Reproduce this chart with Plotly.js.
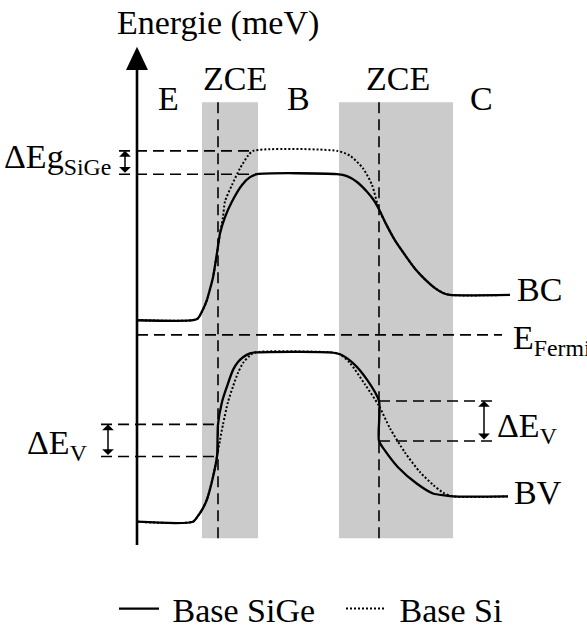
<!DOCTYPE html>
<html><head><meta charset="utf-8">
<script src="https://cdn.plot.ly/plotly-3.0.1.min.js"></script>
<style>html,body{margin:0;padding:0;background:#fff}#chart{width:587px;height:638px}</style>
</head><body><div id="chart"></div>
<script>
// Position (arbitrary units, 0 = energy axis) and energy (arbitrary meV units)
const cbX_SiGe = [0,56,61,65,70,73,76,78,80,83,88,95,105,113,120,200,210,220,230,237,242,249,258,268,278,288,298,306,313,373];
const cbE_SiGe = [231,231,233,240,252,263,275,287,300,320,337,353,370,378,381,381,379,373,363,354,345,330,313,298,284,273,264,259,257,257];
const cbX_Si   = [0,56,61,65,70,73,76,78,80,83,86,88,95,103,111,116,200,213,226,235,242,249,258,268,278,288,298,306,313,373];
const cbE_Si   = [231,231,233,240,252,263,275,287,300,320,337,353,370,387,400,405,405,400,387,370,345,330,313,298,284,273,264,259,257,257];
const vbX_SiGe = [0,56,61,66,70,76,80,81,85,90,96,101,106,113,120,193,203,216,230,242,242,248,261,280,296,308,316,371];
const vbE_SiGe = [24,24,30,38,47,70,91,124,147,163,180,188,193,197,198,198,196,187,170,148,107,97,80,63,53,51,50,50];
const vbX_Si   = [0,56,61,66,70,76,80,83,86,91,96,101,106,113,118,193,203,213,228,242,253,268,283,296,306,316,371];
const vbE_Si   = [24,24,30,38,47,70,91,108,124,147,163,177,187,195,198,198,196,187,165,143,120,95,75,62,54,50,50];

const zceStart = [65, 202];
const zceEnd   = [121, 316];
const junctions = [81, 242];
const eFermi = 216;
const egLevels = [405, 381];        // Base Si / Base SiGe conduction band
const evLeft = [124, 91];           // ΔEV at E-B junction
const evRight = [148, 107];         // ΔEV at B-C junction
const regionLabels = ['E', 'B', 'C'];
const regionX = [31, 161, 344];
const zceLabels = ['ZCE', 'ZCE'];
const seriesNames = ['Base SiGe', 'Base Si'];

const FONT = 'Liberation Serif';
const fs = 34;

function joinBands(x1, y1, x2, y2) {
  return { x: x1.concat([null], x2), y: y1.concat([null], y2) };
}
const si = joinBands(cbX_Si, cbE_Si, vbX_Si, vbE_Si);
const sige = joinBands(cbX_SiGe, cbE_SiGe, vbX_SiGe, vbE_SiGe);

const traces = [
  { x: si.x, y: si.y, mode: 'lines', name: '\u00a0' + seriesNames[1], legendrank: 2,
    line: { color: '#000', width: 2, dash: '2px,2px', shape: 'spline', smoothing: 0.7 },
    connectgaps: false, hoverinfo: 'skip' },
  { x: sige.x, y: sige.y, mode: 'lines', name: '\u00a0' + seriesNames[0], legendrank: 1,
    line: { color: '#000', width: 2.3, shape: 'spline', smoothing: 0.7 },
    connectgaps: false, hoverinfo: 'skip' }
];

const dashed = { color: '#000', width: 1.6, dash: '11px,6px' };
const shapes = [];
for (let i = 0; i < zceStart.length; i++) {
  shapes.push({ type: 'rect', layer: 'below', xref: 'x', yref: 'y', x0: zceStart[i], x1: zceEnd[i], y0: 7, y1: 455,
    fillcolor: '#cbcbcb', line: { width: 0 } });
}
junctions.forEach(j => shapes.push({ type: 'line', layer: 'below', x0: j, x1: j, y0: 7, y1: 455, line: dashed }));
egLevels.forEach((e, i) => shapes.push({ type: 'line', layer: 'below', x0: -18, x1: i === 0 ? 116 : 120, y0: e, y1: e, line: dashed }));
shapes.push({ type: 'line', layer: 'below', x0: 0, x1: 365, y0: eFermi, y1: eFermi, line: dashed });
evLeft.forEach(e => shapes.push({ type: 'line', layer: 'below', x0: -36, x1: junctions[0], y0: e, y1: e, line: dashed }));
evRight.forEach(e => shapes.push({ type: 'line', layer: 'below', x0: junctions[1], x1: 356, y0: e, y1: e, line: dashed }));
shapes.push({ type: 'line', layer: 'above', x0: 0, x1: 0, y0: 0, y1: 492, line: { color: '#000', width: 2.6 } });
shapes.push({ type: 'path', layer: 'above', path: 'M -11,488 L 11,488 L 0,512 Z', fillcolor: '#000', line: { width: 0 } });

function txt(text, x, y, xanchor, size) {
  return { text: text, x: x, y: y, xref: 'x', yref: 'y', showarrow: false, xanchor: xanchor || 'center', yanchor: 'middle',
    font: { family: FONT, size: size || fs, color: '#000' } };
}
function dbl(x, yTop, yBot) {
  return { x: x, y: yTop, ax: x, ay: yBot, xref: 'x', yref: 'y', axref: 'x', ayref: 'y', text: '', showarrow: true,
    arrowside: 'end+start', arrowhead: 1, startarrowhead: 1, arrowsize: 1.3, startarrowsize: 1.3, arrowwidth: 1.5,
    arrowcolor: '#000', standoff: 0, startstandoff: 0 };
}
const annotations = [
  txt('Energie (meV)', 81, 536),
  txt(regionLabels[0], regionX[0], 459), txt(regionLabels[1], regionX[1], 459), txt(regionLabels[2], regionX[2], 459),
  txt(zceLabels[0], 98, 479), txt(zceLabels[1], 261, 479),
  txt('ΔEg<sub>SiGe</sub>', -24, 397, 'right'),
  txt('ΔE<sub>V</sub>', -48, 103, 'right'),
  txt('ΔE<sub>V</sub>', 358, 120, 'left'),
  txt('BC', 378, 263, 'left'),
  txt('BV', 375, 54, 'left'),
  txt('E<sub>Fermi</sub>', 374, 211, 'left'),
  dbl(-12, egLevels[0], egLevels[1]),
  dbl(-29, evLeft[0], evLeft[1]),
  dbl(347, evRight[0], evRight[1])
];

const layout = {
  width: 587, height: 638, margin: { l: 0, r: 0, t: 0, b: 0 },
  paper_bgcolor: '#fff', plot_bgcolor: '#fff',
  xaxis: { range: [-137, 450], visible: false, fixedrange: true },
  yaxis: { range: [-78, 560], visible: false, fixedrange: true },
  showlegend: true,
  legend: { orientation: 'h', x: 114 / 587, xanchor: 'left', y: 1 - 626 / 638, yanchor: 'middle',
    font: { family: FONT, size: fs, color: '#000' }, itemwidth: 40, entrywidth: 172, bgcolor: 'rgba(0,0,0,0)' },
  shapes: shapes, annotations: annotations
};
Plotly.newPlot('chart', traces, layout, { staticPlot: true, displayModeBar: false });
</script></body></html>
